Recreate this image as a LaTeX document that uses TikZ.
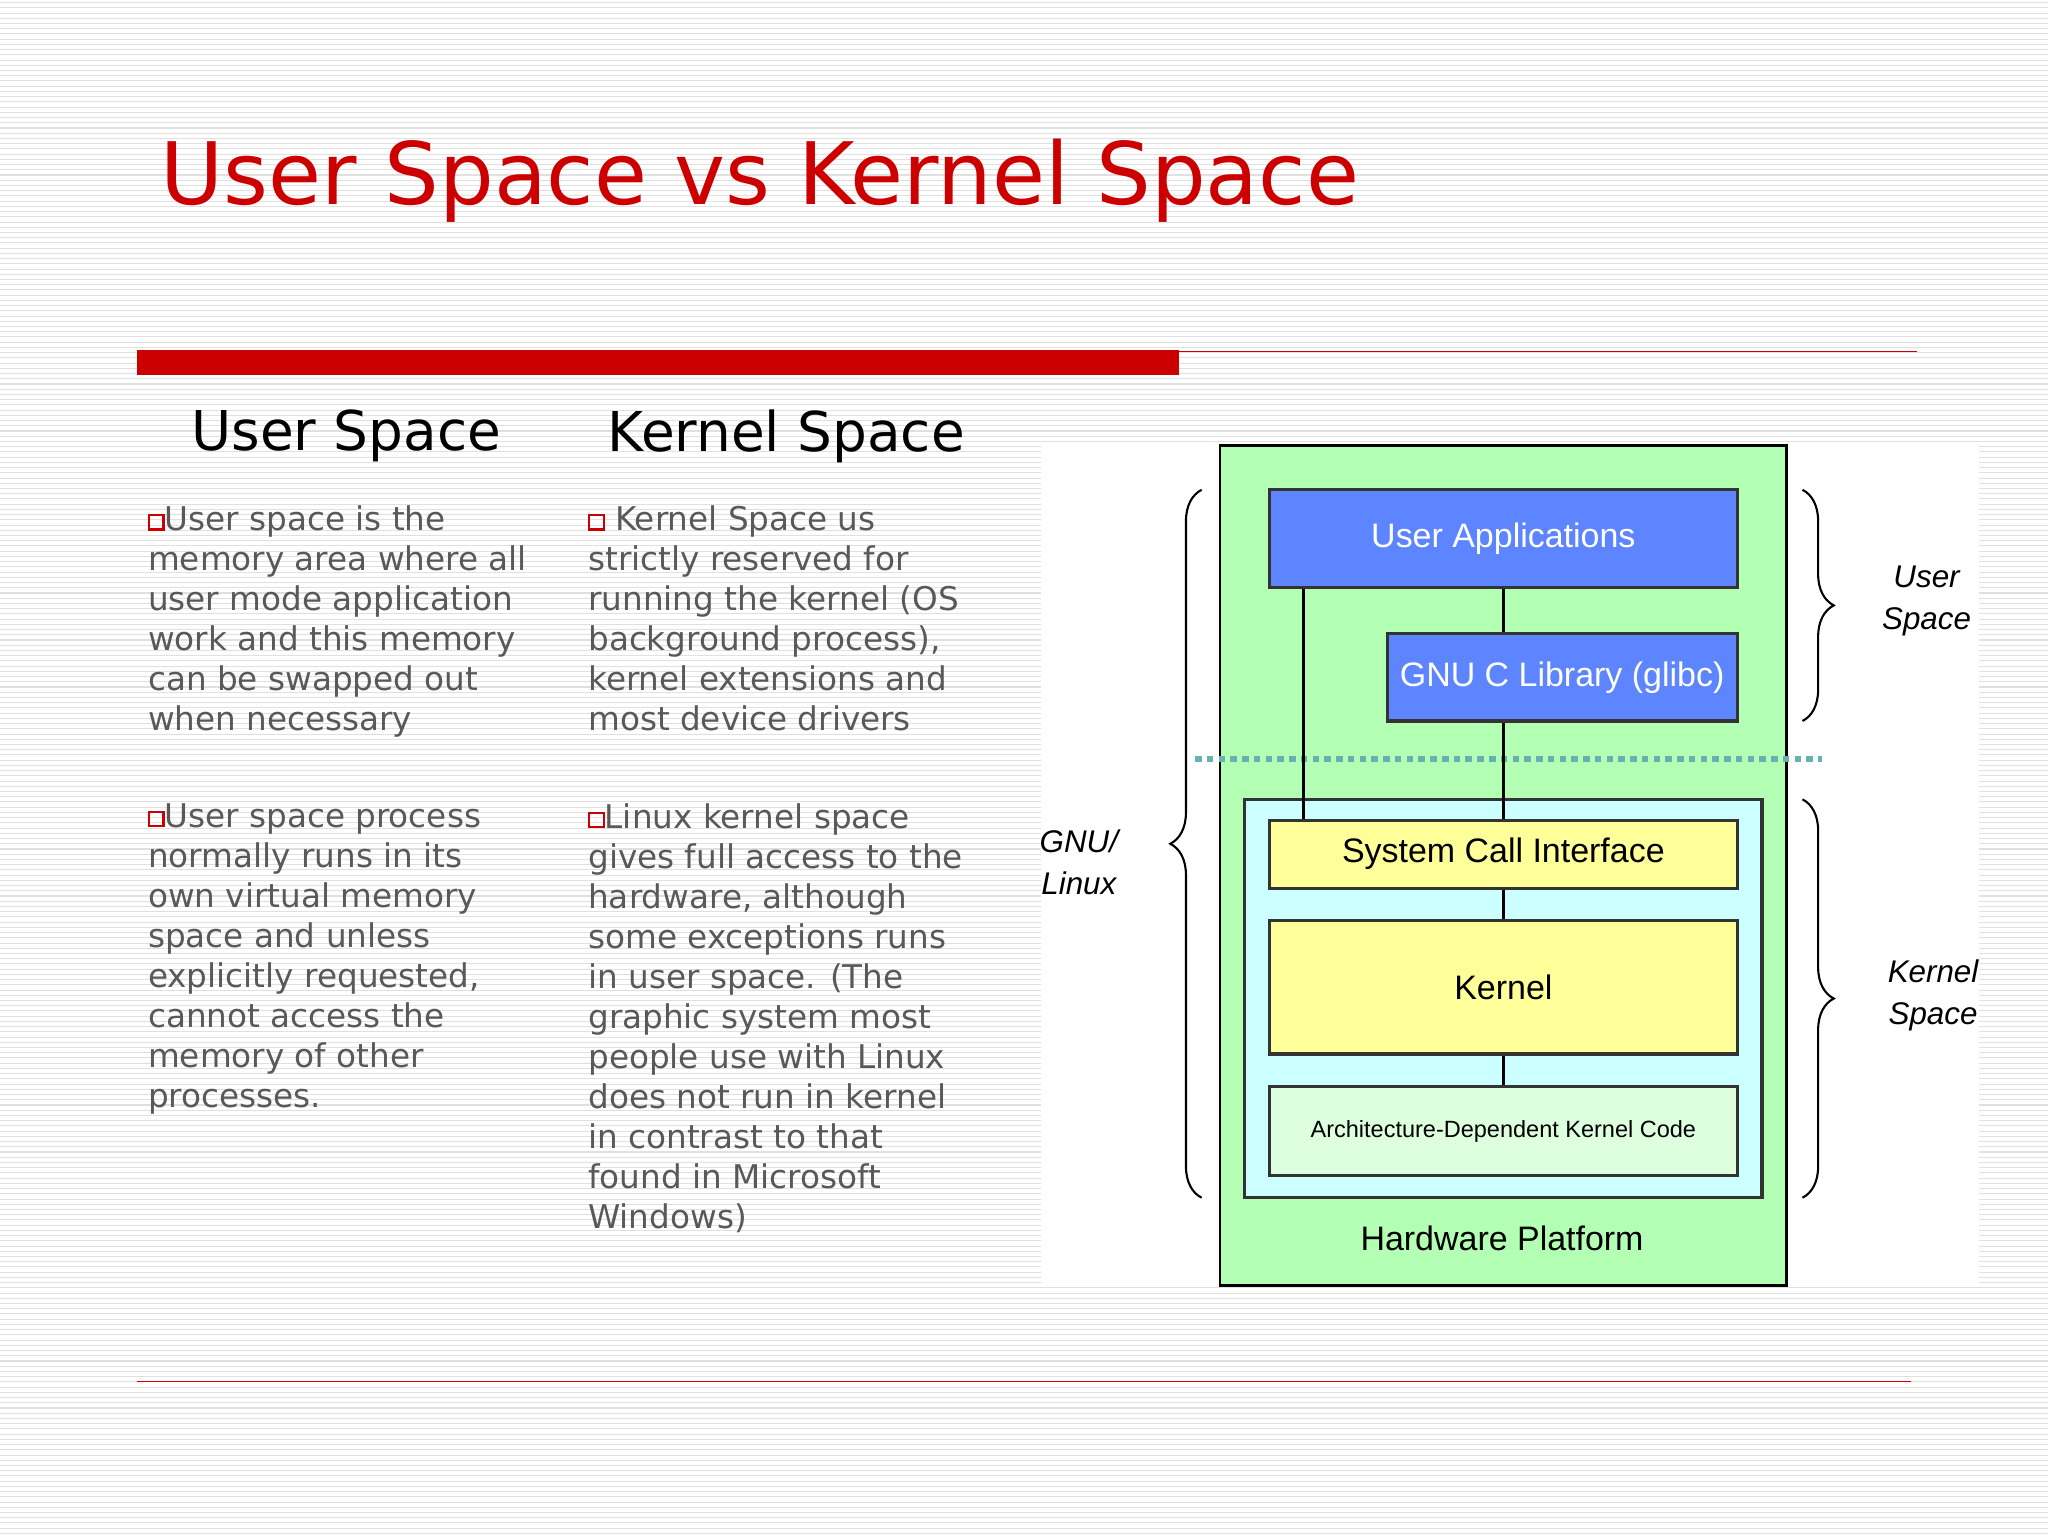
\documentclass[tikz,border=0pt]{standalone}
\usepackage{fontspec}
\setmainfont{DejaVu Sans}
\newfontfamily\diagfont{Liberation Sans}
\usetikzlibrary{decorations.pathreplacing}
\definecolor{tred}{HTML}{CC0000}
\definecolor{tgrey}{HTML}{595959}
\definecolor{hwgreen}{HTML}{B3FFB3}
\definecolor{ublue}{HTML}{5C85FF}
\definecolor{kcyan}{HTML}{CCFFFF}
\definecolor{kyel}{HTML}{FFFF99}
\definecolor{agreen}{HTML}{DDFFDD}
\tikzset{
 body/.style={anchor=north west,align=left,font=\fontsize{12.5}{15.3}\selectfont,text=tgrey,inner sep=0},
 head/.style={font=\fontsize{21}{24}\selectfont},
 bx/.style={draw=black!80,line width=1.2pt},
 lnk/.style={line width=1pt},
 dlab/.style={font=\diagfont\itshape\fontsize{12}{16}\selectfont,align=center},
 brc/.style={decorate,decoration={brace,amplitude=12pt},line width=0.8pt}
}
\newcommand{\bul}{\tikz[baseline=-0.5pt]\draw[tred,line width=0.8pt](0,0) rectangle (5.5pt,5.5pt);}
\begin{document}
\begin{tikzpicture}[x=0.5pt,y=-0.5pt]
\useasboundingbox (0,0) rectangle (1568,1176);
\fill[white] (0,0) rectangle (1568,1176);
\foreach \y in {2,6,...,1174} \draw[black!12,line width=0.4pt] (0,\y)--(1568,\y);
\node[anchor=west,text=tred,font=\fontsize{33}{36}\selectfont] (title) at (116,138) {User Space vs Kernel Space};
\fill[tred] (105,268) rectangle (903,287);
\draw[tred,line width=0.6pt] (903,269)--(1468,269);
\draw[tred,line width=0.4pt] (105,1058)--(1463,1058);
\node[head] (h1) at (265,334) {User Space};
\node[head] (h2) at (602,334) {Kernel Space};
\node[body] (t1) at (113,387) {\bul User space is the\\memory area where all\\user mode application\\work and this memory\\can be swapped out\\when necessary};
\node[body] (t2) at (113,615) {\bul User space process\\normally runs in its\\own virtual memory\\space and unless\\explicitly requested,\\cannot access the\\memory of other\\processes.};
\node[body] (t3) at (450,387) {\bul\ Kernel Space us\\strictly reserved for\\running the kernel (OS\\background process),\\kernel extensions and\\most device drivers};
\node[body] (t4) at (450,615) {\bul Linux kernel space\\gives full access to the\\hardware, although\\some exceptions runs\\in user space. (The\\graphic system most\\people use with Linux\\does not run in kernel\\in contrast to that\\found in Microsoft\\Windows)};
% diagram
\fill[white] (797,340) rectangle (1515,985);
\draw[fill=hwgreen,line width=1pt] (934,341) rectangle (1368,984);
\node[font=\diagfont\fontsize{13}{15}\selectfont] (hw) at (1150,948) {Hardware Platform};
\draw[dotted,line width=2.5pt,teal!60] (915,581)--(1395,581);
\draw[bx,fill=kcyan] (953,612) rectangle (1349,917);
\draw[lnk] (998,450)--(998,628);
\draw[lnk] (1151,450)--(1151,485) (1151,552)--(1151,628) (1151,680)--(1151,705) (1151,807)--(1151,832);
\node[bx,fill=ublue,minimum width=179pt,minimum height=37.5pt,text=white,font=\diagfont\fontsize{13}{15}\selectfont] (ua) at (1151,412.5) {User Applications};
\node[bx,fill=ublue,minimum width=134pt,minimum height=33.5pt,text=white,font=\diagfont\fontsize{13}{15}\selectfont] (glibc) at (1196,518.5) {GNU C Library (glibc)};
\node[bx,fill=kyel,minimum width=179pt,minimum height=26pt,font=\diagfont\fontsize{13}{15}\selectfont] (sci) at (1151,654) {System Call Interface};
\node[bx,fill=kyel,minimum width=179pt,minimum height=51pt,font=\diagfont\fontsize{13}{15}\selectfont] (kern) at (1151,756) {Kernel};
\node[bx,fill=agreen,minimum width=179pt,minimum height=34pt,font=\diagfont\fontsize{9}{11}\selectfont] (arch) at (1151,866) {Architecture-Dependent Kernel Code};
\draw[brc] (920,917)--(920,375);
\draw[brc] (1380,375)--(1380,552);
\draw[brc] (1380,612)--(1380,917);
\node[dlab] (gnu) at (826,660) {GNU/\\Linux};
\node[dlab] (us) at (1475,460) {User\\Space};
\node[dlab] (ks) at (1480,762) {Kernel\\Space};
\end{tikzpicture}
\end{document}
